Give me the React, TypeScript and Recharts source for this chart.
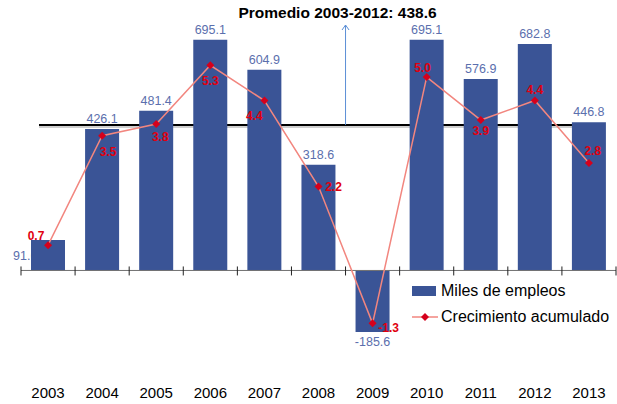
import React from "react"
import {
	Bar,
	ComposedChart,
	LabelList,
	Legend,
	Line,
	ReferenceLine,
	XAxis,
	YAxis,
} from "recharts"

const years = ["2003", "2004", "2005", "2006", "2007", "2008", "2009", "2010", "2011", "2012", "2013"]
const milesEmpleos = [91.6, 426.1, 481.4, 695.1, 604.9, 318.6, -185.6, 695.1, 576.9, 682.8, 446.8]
const crecimiento = [0.7, 3.5, 3.8, 5.3, 4.4, 2.2, -1.3, 5.0, 3.9, 4.4, 2.8]
const promedio = 438.6
const periodoPromedio = "2003-2012"

// where each growth label sits relative to its point (text centre, px)
const growthLabelOffsets = [
	[-12, -9], [6, 16], [4, 13], [0, 15], [-10, 15], [15, 0],
	[16, 4], [-4, -9], [0, 11], [0, -11], [4, -12],
]

const data = years.map((year, i) => ({
	year,
	empleos: milesEmpleos[i],
	crecimiento: crecimiento[i],
}))

const FONT = "Arial, 'Liberation Sans', sans-serif"
const BAR_COLOR = "#3a5496"
const BAR_LABEL = "#5b6fad"
const LINE_COLOR = "#f2867f"
const DOT_COLOR = "#d5001c"
const GROWTH_LABEL = "#e0000f"

const YearTick = (props: any) => {
	const { x, y, payload } = props
	return (
		<text x={x} y={y} dy={27.5} textAnchor="middle" fontSize={15} fontFamily={FONT} fill="#000">
			{payload.value}
		</text>
	)
}

const BarValueLabel = (props: any) => {
	const { x, y, width, height, value, index } = props
	const text = Number(value).toFixed(1)
	if (index === 0) {
		// first bar: label sits to the left, partly hidden behind the bar
		const top = Math.min(y, y + height)
		const mid = top + Math.abs(height) / 2
		return (
			<g>
				<defs>
					<clipPath id="firstBarLabelClip">
						<rect x={0} y={mid - 12} width={x} height={24} />
					</clipPath>
				</defs>
				<text
					x={x - 18}
					y={mid + 4.5}
					fontSize={12.5}
					fontFamily={FONT}
					fill={BAR_LABEL}
					clipPath="url(#firstBarLabelClip)"
				>
					{text}
				</text>
			</g>
		)
	}
	if (value < 0) {
		const bottom = Math.max(y, y + height)
		return (
			<text x={x + width / 2} y={bottom + 14} textAnchor="middle" fontSize={12.5} fontFamily={FONT} fill={BAR_LABEL}>
				{text}
			</text>
		)
	}
	const top = Math.min(y, y + height)
	return (
		<text x={x + width / 2} y={top - 6} textAnchor="middle" fontSize={12.5} fontFamily={FONT} fill={BAR_LABEL}>
			{text}
		</text>
	)
}

const GrowthLabel = (props: any) => {
	const { x, y, value, index } = props
	const [dx, dy] = growthLabelOffsets[index] || [0, -10]
	return (
		<text
			x={x + dx}
			y={y + dy + 4.3}
			textAnchor="middle"
			fontSize={12}
			fontWeight="bold"
			fontFamily={FONT}
			fill={GROWTH_LABEL}
		>
			{Number(value).toFixed(1)}
		</text>
	)
}

const Diamond = (props: any) => {
	const { cx, cy, index } = props
	if (cx == null || cy == null) return null
	return (
		<path
			key={index}
			d={`M${cx},${cy - 4} L${cx + 4},${cy} L${cx},${cy + 4} L${cx - 4},${cy} Z`}
			fill={DOT_COLOR}
		/>
	)
}

const AverageLine = (props: any) => {
	const { x1, y1, x2 } = props
	const step = (x2 - x1) / (years.length - 1)
	const start = x1 - step / 6
	const arrowX = x1 + step * 5.5
	const arrowTop = 25
	return (
		<g>
			<line x1={start} y1={y1 + 2} x2={x2} y2={y1 + 2} stroke="#cfcfcf" strokeWidth={2} />
			<line x1={start} y1={y1} x2={x2} y2={y1} stroke="#000" strokeWidth={2} />
			<line x1={arrowX} y1={y1} x2={arrowX} y2={arrowTop} stroke="#5b8fd6" strokeWidth={1} />
			<path
				d={`M${arrowX - 3.5},${arrowTop + 5} L${arrowX},${arrowTop} L${arrowX + 3.5},${arrowTop + 5}`}
				fill="none"
				stroke="#5b8fd6"
				strokeWidth={1}
			/>
		</g>
	)
}

const ZeroAxis = (props: any) => {
	const { x1, y1, x2 } = props
	const n = years.length
	const step = (x2 - x1) / n
	return (
		<g>
			<line x1={x1} y1={y1} x2={x2} y2={y1} stroke="#707070" strokeWidth={1} />
			{Array.from({ length: n + 1 }, (_, i) => (
				<line
					key={i}
					x1={x1 + i * step}
					x2={x1 + i * step}
					y1={y1 - 4}
					y2={y1 + 5}
					stroke="#222"
					strokeWidth={1}
				/>
			))}
		</g>
	)
}

const LegendContent = () => (
	<div style={{ fontFamily: FONT, fontSize: 16, color: "#000", lineHeight: "26px" }}>
		<div style={{ display: "flex", alignItems: "center" }}>
			<span style={{ display: "inline-block", width: 24, height: 10, background: BAR_COLOR, marginRight: 5 }} />
			<span>Miles de empleos</span>
		</div>
		<div style={{ display: "flex", alignItems: "center" }}>
			<svg width={26} height={10} style={{ marginRight: 3 }}>
				<line x1={0} y1={5} x2={26} y2={5} stroke={LINE_COLOR} strokeWidth={1.5} />
				<path d="M13,1 L17,5 L13,9 L9,5 Z" fill={DOT_COLOR} />
			</svg>
			<span>Crecimiento acumulado</span>
		</div>
	</div>
)

export default function App() {
	return (
		<div style={{ position: "absolute", left: 0, top: 0, width: 617, height: 404, background: "#fff" }}>
			<div
				style={{
					position: "absolute",
					left: 187.5,
					top: 5,
					width: 300,
					textAlign: "center",
					fontFamily: FONT,
					fontWeight: "bold",
					fontSize: 15.5,
					lineHeight: 1,
					whiteSpace: "nowrap",
					zIndex: 2,
				}}
			>
				{`Promedio ${periodoPromedio}: ${promedio}`}
			</div>
			<ComposedChart
				width={617}
				height={404}
				data={data}
				margin={{ top: 5, right: 1, bottom: 0, left: 21 }}
			>
				<XAxis
					dataKey="year"
					height={34}
					axisLine={false}
					tickLine={false}
					tickSize={0}
					tickMargin={0}
					interval={0}
					tick={<YearTick />}
				/>
				<YAxis yAxisId="left" hide domain={[-300, 800]} allowDataOverflow />
				<YAxis yAxisId="right" orientation="right" hide domain={[-2.494, 6.843]} allowDataOverflow />
				<ReferenceLine
					yAxisId="left"
					segment={[
						{ x: years[0], y: promedio },
						{ x: years[years.length - 1], y: promedio },
					]}
					shape={AverageLine}
					zIndex={250}
				/>
				<Bar
					yAxisId="left"
					dataKey="empleos"
					fill={BAR_COLOR}
					barSize={34}
					isAnimationActive={false}
					label={BarValueLabel}
				/>
				<ReferenceLine yAxisId="left" y={0} shape={ZeroAxis} zIndex={350} />
				<Line
					yAxisId="right"
					dataKey="crecimiento"
					stroke={LINE_COLOR}
					strokeWidth={1.5}
					dot={Diamond}
					activeDot={false}
					isAnimationActive={false}
				>
					<LabelList dataKey="crecimiento" content={GrowthLabel} />
				</Line>
				<Legend
					layout="vertical"
					align="center"
					verticalAlign="middle"
					content={LegendContent}
					wrapperStyle={{ left: 412, top: 278, width: "auto", height: "auto" }}
				/>
			</ComposedChart>
		</div>
	)
}
